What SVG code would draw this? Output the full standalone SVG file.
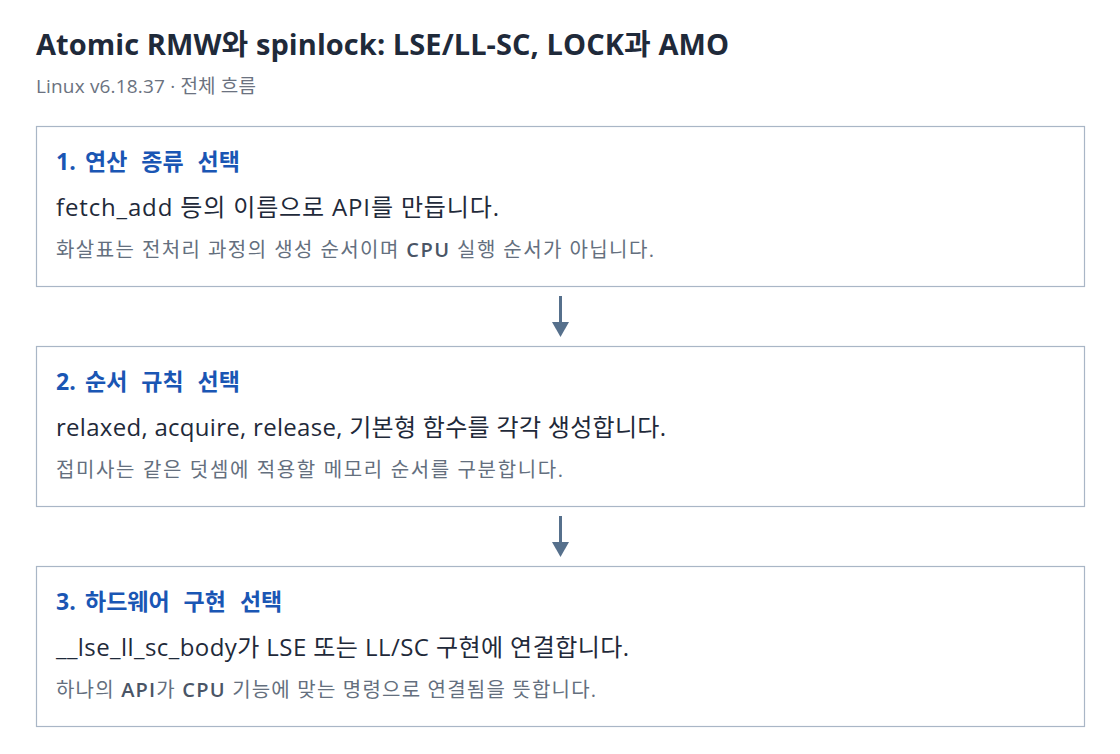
<svg xmlns="http://www.w3.org/2000/svg" width="1120" height="754" viewBox="0 0 1120 754">
<defs>
<style>
text{font-family:"Open Sans","Noto Sans CJK KR",sans-serif}
.title{font-size:29px;font-weight:700;fill:#1f2a3a}
.sub{font-size:19px;fill:#6b7280}
.box{fill:#ffffff;stroke:#a9b6c6;stroke-width:1.2}
.h{font-size:23px;font-weight:700;fill:#1a56b4}
.hw{word-spacing:8px}
.b{font-size:24px;fill:#1f2a3a}
.n{font-size:20px;fill:#646f7e}
.lat{font-weight:600;fill:#4a5566}
.conn{stroke:#56708c;stroke-width:3;fill:none}
</style>
<marker id="ah" viewBox="0 0 15 17" refX="0" refY="8.5" markerWidth="15" markerHeight="17" markerUnits="userSpaceOnUse" orient="auto">
<path d="M0,0 L15,8.5 L0,17 Z" fill="#56708c"/>
</marker>
</defs>
<rect width="1120" height="754" fill="#ffffff"/>
<text class="title" x="36" y="55" textLength="693" lengthAdjust="spacing">Atomic RMW와 spinlock: LSE/LL-SC, LOCK과 AMO</text>
<text class="sub" x="36" y="93" textLength="220" lengthAdjust="spacing">Linux v6.18.37 · 전체 흐름</text>
<g id="node1">
<rect class="box" x="36.5" y="126.5" width="1048" height="160"/>
<text class="h" x="56" y="170">1.<tspan class="hw" x="85">연산 종류 선택</tspan></text>
<text class="b" x="56" y="216" textLength="443" lengthAdjust="spacing">fetch_add 등의 이름으로 API를 만듭니다.</text>
<text class="n" x="56" y="257" textLength="598" lengthAdjust="spacing">화살표는 전처리 과정의 생성 순서이며 <tspan class="lat">CPU</tspan> 실행 순서가 아닙니다.</text>
</g>
<g id="node2">
<rect class="box" x="36.5" y="346.5" width="1048" height="160"/>
<text class="h" x="56" y="390">2.<tspan class="hw" x="85">순서 규칙 선택</tspan></text>
<text class="b" x="56" y="436" textLength="610" lengthAdjust="spacing">relaxed, acquire, release, 기본형 함수를 각각 생성합니다.</text>
<text class="n" x="56" y="477" textLength="507" lengthAdjust="spacing">접미사는 같은 덧셈에 적용할 메모리 순서를 구분합니다.</text>
</g>
<g id="node3">
<rect class="box" x="36.5" y="566.5" width="1048" height="160"/>
<text class="h" x="56" y="610">3.<tspan class="hw" x="85">하드웨어 구현 선택</tspan></text>
<text class="b" x="56" y="656" textLength="573" lengthAdjust="spacing">__lse_ll_sc_body가 LSE 또는 LL/SC 구현에 연결합니다.</text>
<text class="n" x="56" y="697" textLength="540" lengthAdjust="spacing">하나의 <tspan class="lat">API</tspan>가 <tspan class="lat">CPU</tspan> 기능에 맞는 명령으로 연결됨을 뜻합니다.</text>
</g>
<g id="connectors">
<line class="conn" x1="560.5" y1="296" x2="560.5" y2="322" marker-end="url(#ah)"/>
<line class="conn" x1="560.5" y1="516" x2="560.5" y2="542" marker-end="url(#ah)"/>
</g>
</svg>
